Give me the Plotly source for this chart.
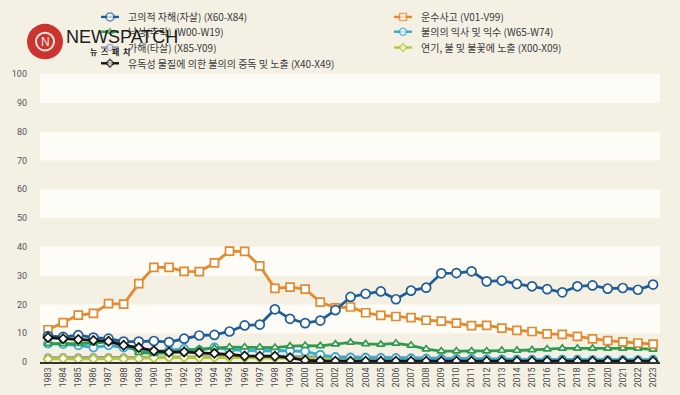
import plotly.graph_objects as go

years = list(range(1983, 2024))

suicide = [9.0, 8.7, 9.3, 8.5, 8.1, 7.1, 7.1, 7.3, 6.9, 8.1, 9.2, 9.4, 10.6, 12.7, 13.0, 18.3, 15.0, 13.5, 14.4, 18.0,
           22.6, 23.7, 24.5, 21.8, 24.8, 25.8, 30.8, 30.9, 31.5, 28.0, 28.3, 27.1, 26.3, 25.3, 24.2, 26.3, 26.6, 25.5, 25.7, 25.1, 26.9]
transport = [11.2, 13.7, 16.3, 16.9, 20.3, 20.1, 27.2, 32.9, 32.9, 31.5, 31.4, 34.4, 38.5, 38.4, 33.4, 25.6, 26.0, 25.3, 20.8, 18.8,
             19.1, 17.1, 16.2, 15.8, 15.4, 14.5, 14.2, 13.5, 12.6, 12.7, 11.8, 11.0, 10.6, 9.8, 9.6, 8.9, 8.0, 7.4, 7.0, 6.6, 6.2]
falls = [6.4, 6.3, 6.4, 6.6, 7.0, 6.8, 3.3, 3.0, 3.2, 4.0, 4.5, 4.8, 5.2, 5.2, 5.1, 5.0, 5.5, 5.7, 5.6, 6.2,
         6.8, 6.3, 6.1, 6.5, 5.8, 4.5, 3.8, 3.8, 3.8, 3.8, 4.0, 4.0, 4.2, 4.5, 4.7, 4.7, 4.7, 4.7, 4.7, 4.7, 4.4]
drowning = [6.4, 6.2, 5.8, 5.0, 5.8, 5.0, 4.2, 3.6, 4.0, 4.6, 4.1, 5.1, 4.2, 4.0, 3.9, 4.0, 3.9, 3.7, 2.5, 1.7,
            1.5, 1.4, 1.3, 1.3, 1.2, 1.1, 1.0, 1.0, 1.0, 0.9, 0.9, 0.8, 0.8, 0.8, 0.8, 0.8, 0.7, 0.7, 0.7, 0.7, 0.8]
homicide = [1.5, 1.6, 1.5, 1.6, 1.6, 1.5, 1.6, 1.7, 1.8, 1.8, 1.9, 1.9, 1.9, 1.8, 1.8, 2.1, 1.9, 1.8, 1.9, 1.9,
            1.8, 1.8, 1.7, 1.6, 1.5, 1.4, 1.4, 1.3, 1.3, 1.1, 1.0, 0.9, 0.8, 0.8, 0.8, 0.7, 0.7, 0.6, 0.6, 0.6, 0.6]
poisoning = [8.5, 8.1, 7.8, 7.5, 7.2, 5.8, 5.0, 3.9, 3.4, 3.5, 3.2, 3.0, 2.6, 2.1, 2.0, 2.0, 1.5, 0.6, 0.4, 0.3,
             0.3, 0.3, 0.3, 0.3, 0.3, 0.3, 0.3, 0.3, 0.3, 0.3, 0.3, 0.3, 0.3, 0.3, 0.3, 0.3, 0.3, 0.3, 0.3, 0.3, 0.3]
fire = [1.0, 1.2, 1.0, 1.1, 1.1, 1.1, 1.2, 1.4, 1.6, 1.6, 1.5, 1.6, 1.6, 1.5, 1.4, 1.4, 1.3, 1.2, 1.1, 1.1,
        1.2, 1.0, 0.9, 0.9, 0.8, 0.8, 0.7, 0.7, 0.6, 0.6, 0.6, 0.6, 0.6, 0.5, 0.5, 0.5, 0.5, 0.5, 0.5, 0.5, 0.5]

names = {
    "suicide": "고의적 자해(자살) (X60-X84)",
    "transport": "운수사고 (V01-V99)",
    "falls": "낙상(추락) (W00-W19)",
    "drowning": "불의의 익사 및 익수 (W65-W74)",
    "homicide": "가해(타살) (X85-Y09)",
    "fire": "연기, 불 및 불꽃에 노출 (X00-X09)",
    "poisoning": "유독성 물질에 의한 불의의 중독 및 노출 (X40-X49)",
}
y_ticks = [0, 10, 20, 30, 40, 50, 60, 70, 80, 90, 100]

FONT = "Noto Sans CJK KR"
NARROW = "Liberation Sans Narrow, Roboto"
BG = "#f4f0e4"

# The page body adds an 8px margin; design in window pixels, convert to figure pixels.
OFF = 8
W, H = 680 - OFF, 395 - OFF
PLOT_L, PLOT_R = 40 - OFF, 660 - OFF      # figure pixels of plot area left/right
PLOT_TOP, PLOT_BOT = 70 - OFF, 362 - OFF  # figure pixels of y=100 / y=0
L, R, B = PLOT_L, W - PLOT_R, H - PLOT_BOT
paper_h = H - B
main_top = (paper_h - PLOT_TOP) / paper_h

styles = {
    "suicide": ("#1f5d98", "circle", 9),
    "transport": ("#e4892d", "square", 8),
    "falls": ("#2f9a4c", "triangle-up", 7),
    "drowning": ("#36a9cf", "circle", 8),
    "homicide": ("#9b95ad", "circle", 7),
    "fire": ("#b3c83a", "diamond", 7),
    "poisoning": ("#151515", "diamond", 7),
}
data = {"suicide": suicide, "transport": transport, "falls": falls, "drowning": drowning,
        "homicide": homicide, "fire": fire, "poisoning": poisoning}
draw_order = ["homicide", "fire", "drowning", "falls", "transport", "suicide", "poisoning"]

# legend layout (window pixel positions)
legend_pos = {
    "suicide": (101, 12), "falls": (101, 27), "homicide": (101, 43), "poisoning": (101, 59),
    "transport": (394, 12), "drowning": (394, 27), "fire": (394, 43),
}

fig = go.Figure()
for key in draw_order:
    color, sym, size = styles[key]
    fig.add_trace(go.Scatter(
        x=years, y=data[key], name=names[key], mode="lines+markers",
        line=dict(color=color, width=2.8),
        marker=dict(symbol=sym, size=size, color="white", line=dict(color=color, width=1.7)),
        showlegend=False, xaxis="x", yaxis="y",
    ))

annotations = []
for key, (wx, wy) in legend_pos.items():
    color, sym, size = styles[key]
    px, py = wx - OFF, wy - OFF
    fig.add_trace(go.Scatter(
        x=[px, px + 9, px + 18], y=[py, py, py], mode="lines+markers",
        line=dict(color=color, width=2.4),
        marker=dict(symbol=sym, size=[0, size - 1, 0], color="white", line=dict(color=color, width=1.6)),
        showlegend=False, hoverinfo="skip", xaxis="x2", yaxis="y2", cliponaxis=False,
    ))
    annotations.append(dict(text=names[key], xref="x2", yref="y2", x=px + 25, y=py,
                            xanchor="left", yanchor="middle", showarrow=False,
                            font=dict(family=FONT, size=10, color="#3a3a3a")))

shapes = []
for lo in [10, 30, 50, 70, 90]:
    shapes.append(dict(type="rect", xref="paper", yref="y", x0=0, x1=1, y0=lo, y1=lo + 10,
                       fillcolor="#fdfcf7", line=dict(width=0), layer="below"))


def px2x(wx):
    return (wx - OFF - L) / (W - L - R)


def py2y(wy):
    return (paper_h - (wy - OFF)) / paper_h


# logo watermark
shapes.append(dict(type="circle", xref="paper", yref="paper", x0=px2x(27), x1=px2x(63),
                   y0=py2y(55), y1=py2y(19), fillcolor="#cc3430", line=dict(width=0), layer="above"))
shapes.append(dict(type="circle", xref="paper", yref="paper", x0=px2x(36), x1=px2x(54),
                   y0=py2y(46), y1=py2y(28), fillcolor="rgba(0,0,0,0)", line=dict(color="#f4e8e0", width=2),
                   layer="above"))
annotations += [
    dict(text="N", xref="paper", yref="paper", x=px2x(45), y=py2y(37), xanchor="center", yanchor="middle",
         showarrow=False, font=dict(family="Liberation Sans", size=12, color="#f8efe8")),
    dict(text="NEWSPATCH", xref="paper", yref="paper", x=px2x(64), y=py2y(32),
         xanchor="left", yanchor="middle", showarrow=False,
         font=dict(family="Liberation Sans", size=18, color="#1c1c1c")),
    dict(text="<b>뉴  스  패  치</b>", xref="paper", yref="paper", x=px2x(88), y=py2y(47),
         xanchor="left", yanchor="middle", showarrow=False,
         font=dict(family=FONT, size=8, color="#1c1c1c")),
]

fig.update_layout(
    width=W, height=H,
    margin=dict(l=L, r=R, t=0, b=B),
    paper_bgcolor=BG, plot_bgcolor=BG,
    font=dict(family=FONT, size=10, color="#444"),
    showlegend=False,
    shapes=shapes,
    annotations=annotations,
    xaxis=dict(range=[1982.47, 2023.46], tickmode="array", tickvals=years, ticktext=[str(y) for y in years],
               tickangle=-90, tickfont=dict(size=9, color="#4a4a4a", family=NARROW),
               showgrid=False, zeroline=False, showline=True, linecolor="#333", linewidth=1.5,
               ticks="", anchor="y"),
    yaxis=dict(range=[0, 100], domain=[0, main_top], tickmode="array", tickvals=y_ticks,
               showgrid=False, zeroline=False, ticklabelstandoff=12,
               tickfont=dict(size=9, color="#555", family=NARROW),
               ticks="", showline=False, anchor="x"),
    xaxis2=dict(range=[L, W - R], domain=[0, 1], anchor="y2", visible=False, fixedrange=True),
    yaxis2=dict(range=[PLOT_TOP, 0], domain=[main_top, 1], anchor="x2", visible=False, fixedrange=True),
)

fig.write_html("out.html", post_script="document.body.style.background='#f4f0e4';")
